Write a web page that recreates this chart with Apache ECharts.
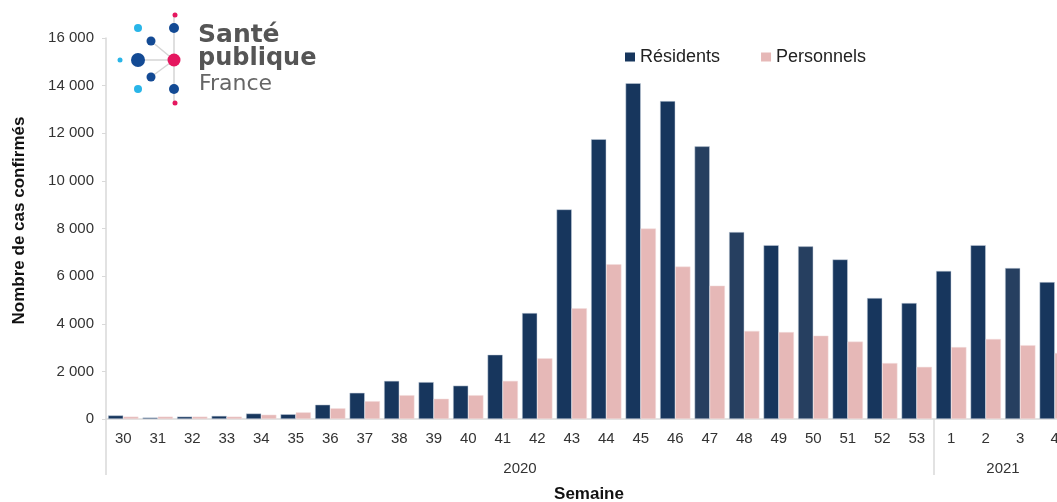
<!DOCTYPE html>
<html>
<head>
<meta charset="utf-8">
<script src="https://cdn.jsdelivr.net/npm/echarts@6/dist/echarts.min.js"></script>
<style>
  html, body { margin: 0; padding: 0; background: #fff; }
  #chart { width: 1057px; height: 502px; }
</style>
</head>
<body>
<div id="chart"></div>
<script>
// semaines ISO (2020: 30..53, 2021: 1..4)
const weeks = ['30','31','32','33','34','35','36','37','38','39','40','41','42','43','44','45','46','47','48','49','50','51','52','53','1','2','3','4'];
const residents = [150, 60, 100, 130, 230, 200, 600, 1100, 1600, 1550, 1400, 2700, 4450, 8800, 11750, 14100, 13350, 11450, 7850, 7300, 7250, 6700, 5080, 4870, 6220, 7300, 6340, 5750];
const personnels = [100, 100, 100, 100, 180, 280, 450, 750, 1000, 850, 1000, 1600, 2550, 4650, 6500, 8000, 6400, 5600, 3700, 3650, 3500, 3250, 2350, 2190, 3020, 3360, 3100, 2770];
const years = ['2020', '2021'];
const yearBounds = [0, 24, 28]; // en nombre de semaines
const yearCenters = [12, 26];
// barres "résidents" un peu plus claires dans l'original
const lighter = [17, 18, 20, 26];

const font = 'Liberation Sans, Arial, sans-serif';
const logoFont = 'DejaVu Sans, sans-serif';
const chart = echarts.init(document.getElementById('chart'));

// logo Santé publique France
const dot = (x, y, r, c) => ({ type: 'circle', shape: { cx: x, cy: y, r: r }, style: { fill: c }, z: 10 });
const seg = (x1, y1, x2, y2) => ({ type: 'line', shape: { x1: x1, y1: y1, x2: x2, y2: y2 }, style: { stroke: '#d5d5d5', lineWidth: 1.5 }, z: 9 });
const navy = '#134a94', sky = '#29b5e8', rose = '#e5175f';
const logo = [
  seg(174, 15, 174, 103), seg(138, 60, 174, 60), seg(151, 41, 174, 60), seg(151, 77, 174, 60),
  dot(175, 15, 2.5, rose), dot(174, 28, 5, navy), dot(138, 28, 4, sky), dot(151, 41, 4.5, navy),
  dot(120, 60, 2.5, sky), dot(138, 60, 7, navy), dot(174, 60, 6.5, rose), dot(151, 77, 4.5, navy),
  dot(138, 89, 4, sky), dot(174, 89, 5, navy), dot(175, 103, 2.5, rose),
  { type: 'text', left: 198, top: 23, z: 10, style: { text: 'Santé', font: 'bold 25px ' + logoFont, fill: '#555' } },
  { type: 'text', left: 198, top: 47, z: 10, style: { text: 'publique', font: 'bold 24px ' + logoFont, fill: '#555' } },
  { type: 'text', left: 199, top: 73, z: 10, style: { text: 'France', font: '22px ' + logoFont, fill: '#666' } }
];

chart.setOption({
  animation: false,
  color: ['#17365d', '#e6b8b7'],
  textStyle: { fontFamily: font },
  graphic: logo,
  legend: {
    left: 620, top: 43, icon: 'rect', itemWidth: 10, itemHeight: 9, itemGap: 41,
    itemStyle: { borderWidth: 0 },
    textStyle: { fontSize: 18, color: '#222', fontFamily: font },
    data: ['Résidents', 'Personnels']
  },
  grid: { left: 106, top: 38, width: 966, height: 381, outerBoundsMode: 'none', containLabel: false },
  xAxis: [{
    type: 'category', data: weeks, position: 'bottom',
    axisLine: { lineStyle: { color: '#d9d9d9', width: 1.5 } },
    axisTick: { show: false },
    axisLabel: { color: '#333', fontSize: 15, margin: 12, interval: 0 },
    name: 'Semaine', nameLocation: 'middle', nameGap: 67,
    nameTextStyle: { fontWeight: 'bold', fontSize: 17, color: '#111' }
  }, {
    type: 'value', position: 'bottom', min: 0, max: weeks.length,
    axisLine: { show: false },
    splitLine: { show: false },
    axisTick: { show: true, customValues: yearBounds, length: 56, lineStyle: { color: '#d9d9d9', width: 1.5 } },
    axisLabel: {
      customValues: yearCenters, color: '#333', fontSize: 15, margin: 42,
      formatter: v => years[yearCenters.indexOf(v)] || ''
    }
  }],
  yAxis: {
    type: 'value', min: 0, max: 16000, interval: 2000,
    name: 'Nombre de cas confirmés', nameLocation: 'middle', nameGap: 78, nameRotate: 90,
    nameTextStyle: { fontWeight: 'bold', fontSize: 17, color: '#111', padding: [0, 0, 0, 16] },
    axisLine: { show: true, lineStyle: { color: '#d9d9d9', width: 1.5 } },
    axisTick: { show: true, length: 4, lineStyle: { color: '#d9d9d9' } },
    splitLine: { show: false },
    axisLabel: { color: '#333', fontSize: 15, margin: 12, formatter: v => String(v).replace(/\B(?=(\d{3})+(?!\d))/g, ' ') }
  },
  series: [{
    name: 'Résidents', type: 'bar', data: residents, barGap: '0%', barCategoryGap: '12%',
    itemStyle: {
      borderColor: '#c9d2de', borderWidth: 0.5,
      color: p => lighter.indexOf(p.dataIndex) >= 0 ? '#263f60' : '#17365d'
    }
  }, {
    name: 'Personnels', type: 'bar', data: personnels,
    itemStyle: { borderColor: '#f3dede', borderWidth: 0.5 }
  }]
});
</script>
</body>
</html>
